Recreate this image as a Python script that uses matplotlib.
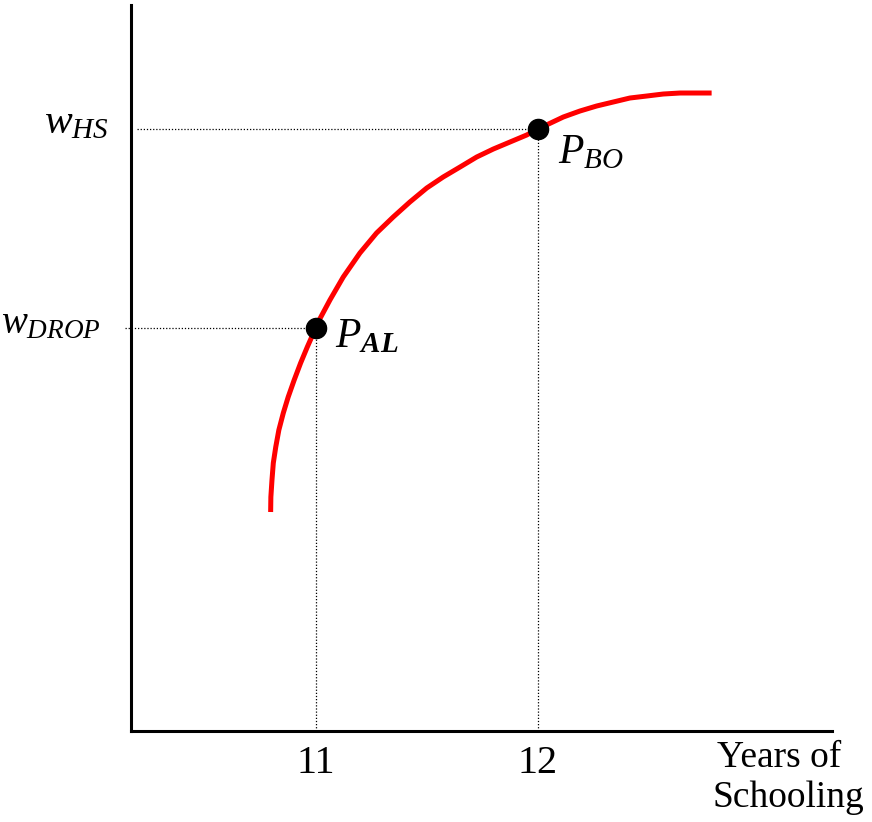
import matplotlib
matplotlib.use("Agg")
import matplotlib.pyplot as plt

plt.rcParams['font.family'] = 'Liberation Serif'
plt.rcParams['mathtext.fontset'] = 'custom'
plt.rcParams['mathtext.rm'] = 'Liberation Serif'
plt.rcParams['mathtext.it'] = 'Liberation Serif:italic'
plt.rcParams['mathtext.bf'] = 'Liberation Serif:italic:bold'

# wage curve (years of schooling, wage in arbitrary units)
curve_x = [10.796, 10.797, 10.802, 10.808, 10.819, 10.833, 10.853, 10.875, 10.902,
           10.931, 10.961, 10.985, 11.0, 11.010, 11.063, 11.123, 11.198, 11.273,
           11.348, 11.423, 11.499, 11.573, 11.649, 11.724, 11.799, 11.874, 11.949,
           12.0, 12.114, 12.189, 12.264, 12.339, 12.414, 12.490, 12.564, 12.640,
           12.715, 12.782]
curve_y = [2.19, 2.34, 2.51, 2.68, 2.84, 3.01, 3.18, 3.34, 3.51,
           3.68, 3.84, 3.96, 4.03, 4.09, 4.31, 4.54, 4.78, 4.98,
           5.14, 5.29, 5.43, 5.54, 5.64, 5.74, 5.82, 5.89, 5.96,
           6.02, 6.14, 6.20, 6.25, 6.29, 6.33, 6.35, 6.37, 6.38,
           6.38, 6.38]

years = [11, 12]
wages = [4.03, 6.02]
wage_labels = [r'$w_{DROP}$', r'$w_{HS}$']
point_labels = [r'$P_{\mathbf{AL}}$', r'$P_{BO}$']

fig = plt.figure(figsize=(8.72, 8.22), dpi=100)
ax = fig.add_axes([0.1502, 0.1107, 0.8039, 0.8832])
ax.set_xlim(10.167, 13.324)
ax.set_ylim(0, 7.26)

ax.plot(curve_x, curve_y, color='#ff0000', lw=3.6, solid_capstyle='butt',
        solid_joinstyle='round', zorder=3)

# dotted guides
ax.hlines(wages[0], 10.14, years[0], colors='black', lw=0.9, linestyles=(0, (1, 1.5)), clip_on=False)
ax.hlines(wages[1], 10.195, years[1], colors='black', lw=0.9, linestyles=(0, (1, 1.5)))
for x, y in zip(years, wages):
    ax.vlines(x, 0, y, colors='black', lw=0.9, linestyles=(0, (1, 1.5)))

ax.plot(years, wages, 'o', color='black', ms=14.5, zorder=4)

ax.text(9.582, 3.98, wage_labels[0], fontsize=28, ha='left', va='baseline')
ax.text(10.068, 5.98, wage_labels[1], fontsize=30, ha='right', va='baseline')
ax.text(11.085, 3.84, point_labels[0], fontsize=30, ha='left', va='baseline')
ax.text(12.09, 5.68, point_labels[1], fontsize=30, ha='left', va='baseline')

ax.text(12.806, -0.36, 'Years of', fontsize=27, ha='left', va='baseline')
ax.text(12.784, -0.76, 'Schooling', fontsize=27, ha='left', va='baseline')

ax.set_xticks(years)
ax.set_xticklabels([str(y) for y in years], fontsize=29)
ax.tick_params(axis='x', length=0, pad=10)
ax.set_yticks([])

for s in ['top', 'right']:
    ax.spines[s].set_visible(False)
for s in ['left', 'bottom']:
    ax.spines[s].set_linewidth(2.2)

fig.savefig('out.png', dpi=100)
